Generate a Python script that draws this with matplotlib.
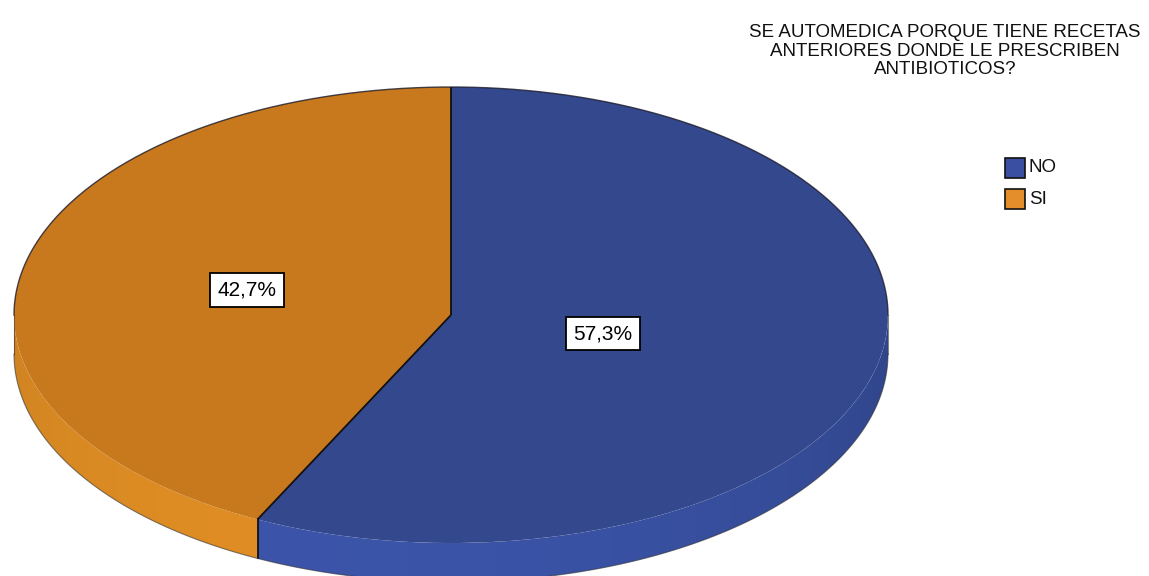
import numpy as np
import matplotlib
matplotlib.use('Agg')
import matplotlib.pyplot as plt
from matplotlib.transforms import Affine2D
from matplotlib.patches import Polygon, Rectangle
import matplotlib.colors as mcolors

# ---- data ----
categories = ['NO', 'SI']
values = [57.3, 42.7]
labels = ['57,3%', '42,7%']
title = 'SE AUTOMEDICA PORQUE TIENE RECETAS\nANTERIORES DONDE LE PRESCRIBEN\nANTIBIOTICOS?'

# ---- style ----
top_colors = ['#34488e', '#c9791d']
side_colors = ['#3a53a6', '#da8a23']
legend_colors = ['#3a4fa2', '#e38d2b']
label_r = [0.357, 0.48]
FONT = 'Liberation Sans'

W, H = 1149, 576
fig = plt.figure(figsize=(W / 100, H / 100), dpi=100)
fig.patch.set_facecolor('white')
ax = fig.add_axes([0, 0, 1, 1])

cx, cy = 451, H - 315
a, b = 437, 228
depth = 39

fr = np.array(values) / np.sum(values)
starts = 90 - 360 * np.concatenate([[0], np.cumsum(fr)[:-1]])
ends = starts - 360 * fr


def ell(t_deg, dy=0.0):
    t = np.radians(t_deg)
    return cx + a * np.cos(t), cy + b * np.sin(t) - dy


# ---- side (front visible part) with shading ----
xs = np.arange(W) + 0.5
u = np.clip((xs - cx) / a, -1, 1)
tcol = -np.degrees(np.arccos(u))  # front half angles in [-180, 0]
t_light = -115.0
shade = 0.88 + 0.14 * np.cos(np.radians(tcol - t_light))

for i in range(len(values)):
    lo, hi = ends[i], starts[i]
    for k in (-1, 0, 1):
        v_lo, v_hi = -180 + 360 * k, 0 + 360 * k
        s_lo, s_hi = max(lo, v_lo), min(hi, v_hi)
        if s_hi - s_lo <= 1e-6:
            continue
        tt = np.linspace(s_lo, s_hi, 200)
        x1, y1 = ell(tt)
        x2, y2 = ell(tt[::-1], depth)
        poly = Polygon(np.column_stack([np.concatenate([x1, x2]), np.concatenate([y1, y2])]),
                       closed=True, fc='none', ec='none')
        ax.add_patch(poly)
        base = np.array(mcolors.to_rgb(side_colors[i]))
        row = np.clip(base[None, :] * shade[:, None], 0, 1)
        img = np.repeat(row[None, :, :], 2, axis=0)
        im = ax.imshow(img, extent=(0, W, 0, H), origin='lower', aspect='auto',
                       interpolation='nearest', zorder=1)
        im.set_clip_path(poly)

# ---- top face via pie ----
wedges, _ = ax.pie(values, colors=top_colors, startangle=90, counterclock=False,
                   center=(cx, cy), radius=a, wedgeprops=dict(linewidth=0))
tr = Affine2D().translate(-cx, -cy).scale(1, b / a).translate(cx, cy) + ax.transData
for w in wedges:
    w.set_transform(tr)
    w.set_zorder(2)

# radial separators on the top face + on the side
for s in starts:
    xe, ye = ell(s)
    ax.plot([cx, xe], [cy, ye], color='#111111', lw=1.3, zorder=3, solid_capstyle='butt')
    if np.sin(np.radians(s)) < 0:
        ax.plot([xe, xe], [ye, ye - depth], color='#111111', lw=1.3, zorder=3)

# silhouette
tb = np.linspace(0, 180, 300)
xb, yb = ell(tb)
ax.plot(xb, yb, color='#1a1a2a', lw=1.0, alpha=0.8, zorder=3)
tf = np.linspace(-180, 0, 300)
xf, yf = ell(tf, depth)
ax.plot(xf, yf, color='#333333', lw=0.8, alpha=0.6, zorder=3)
for te in (-180, 0):
    xe, ye = ell(te)
    ax.plot([xe, xe], [ye, ye - depth], color='#333333', lw=0.8, alpha=0.6, zorder=3)

# ---- labels ----
mids = (starts + ends) / 2
for i in range(len(values)):
    t = np.radians(mids[i])
    ax.text(cx + label_r[i] * a * np.cos(t), cy + label_r[i] * b * np.sin(t), labels[i],
            ha='center', va='center', fontsize=15, family=FONT, color='black', zorder=5,
            bbox=dict(boxstyle='square,pad=0.35', fc='white', ec='black', lw=1.3))

# ---- title ----
ax.text(945, H - 51, title, ha='center', va='center', fontsize=13.5, family=FONT,
        color='#111111', linespacing=1.15, zorder=5)

# ---- legend ----
for i, cat in enumerate(categories):
    y0 = H - 178 - i * 31
    ax.add_patch(Rectangle((1005, y0), 20, 20, fc=legend_colors[i], ec='#111111', lw=1.2, zorder=5))
    ax.text(1029, y0 + 10, cat, ha='left', va='center', fontsize=13.5, family=FONT,
            color='#111111', zorder=5)

ax.set_xlim(0, W)
ax.set_ylim(0, H)
ax.set_aspect('auto')
ax.axis('off')

fig.savefig('out.png', dpi=100, facecolor='white')
